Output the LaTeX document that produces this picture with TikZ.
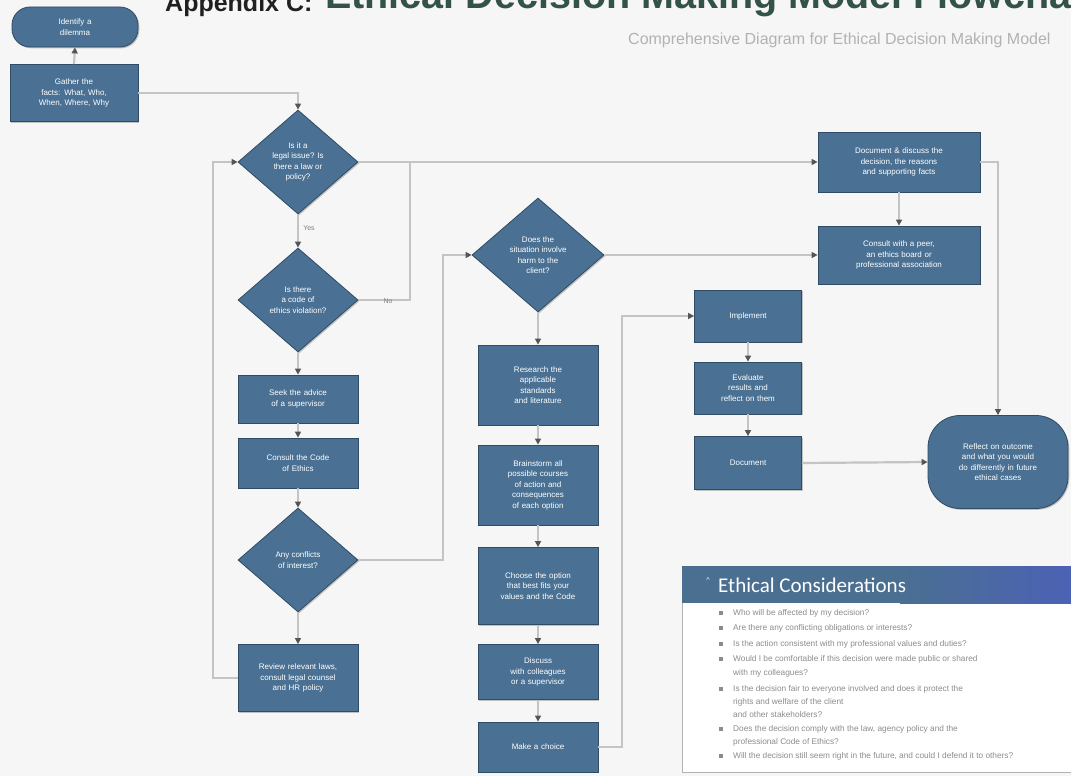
\documentclass[tikz,border=0pt]{standalone}
\usepackage{fontspec}
\setmainfont{Liberation Sans}
\newfontfamily\carlito{Carlito}
\usetikzlibrary{shapes.geometric,arrows.meta,shadows}
\definecolor{nodefill}{HTML}{4A7193}
\definecolor{nodeedge}{HTML}{2F4B65}
\definecolor{linec}{HTML}{C4C4C4}
\definecolor{tipc}{HTML}{555555}
\definecolor{bgc}{HTML}{F6F6F6}
\definecolor{titlec}{HTML}{33524A}
\definecolor{headA}{HTML}{4A6F91}
\definecolor{headB}{HTML}{4C61B8}
\definecolor{itemc}{HTML}{8C8C8C}
\begin{document}
\begin{tikzpicture}[x=1pt,y=-1pt,
  shade/.style={drop shadow={shadow xshift=1.3pt,shadow yshift=-1.3pt,opacity=0.45}},
  box/.style={draw=nodeedge,line width=0.8pt,fill=nodefill,text=white,
    font=\fontsize{8}{10.5}\selectfont,align=center,inner sep=2pt,
    minimum width=120pt,text width=110pt,shade},
  sbox/.style={box,minimum width=107pt,text width=98pt},
  wbox/.style={box,minimum width=162pt,text width=150pt},
  dia/.style={diamond,draw=nodeedge,line width=0.8pt,fill=nodefill,text=white,
    font=\fontsize{8}{10.5}\selectfont,align=center,inner sep=0pt,
    minimum width=120pt,minimum height=104pt,shade},
  term/.style={box,rounded corners=18pt},
  conn/.style={draw=linec,line width=2.2pt,-{Triangle[length=6pt,width=6pt,color=tipc]}},
  connplain/.style={draw=linec,line width=2.2pt},
  lbl/.style={font=\fontsize{7}{7}\selectfont,text=gray,inner sep=1pt},
  item/.style={anchor=west,font=\fontsize{8.3}{8.3}\selectfont,text=itemc,inner sep=0pt},
  bul/.style={fill=itemc}
]
\useasboundingbox (0,0) rectangle (1071,776);
\fill[bgc] (0,0) rectangle (1071,776);

% titles
\node[anchor=base west,font=\bfseries\fontsize{25}{25}\selectfont,text=gray!25!black,inner sep=0pt] (ttlA) at (165,12) {Appendix C:};
\node[anchor=base west,font=\bfseries\fontsize{39.5}{39.5}\selectfont,text=titlec,inner sep=0pt] (ttlB) at (325,9) {Ethical Decision Making Model Flowchart};
\node[anchor=west,font=\fontsize{16}{16}\selectfont,text=gray!60,inner sep=0pt] (sub) at (628,40) {Comprehensive Diagram for Ethical Decision Making Model};

% left column
\node[term,minimum width=126pt,text width=110pt,minimum height=40pt] (start) at (75,27) {Identify a\\dilemma};
\node[box,minimum width=128pt,minimum height=57pt] (facts) at (74,93) {Gather the\\facts: What, Who,\\When, Where, Why};
\node[dia] (d1) at (298,162) {Is it a\\legal issue? Is\\there a law or\\policy?};
\node[dia] (d2) at (298,300) {Is there\\a code of\\ethics violation?};
\node[box,minimum height=48pt] (b3) at (298,399) {Seek the advice\\of a supervisor};
\node[box,minimum height=50pt] (b4) at (298,463) {Consult the Code\\of Ethics};
\node[dia] (d3) at (298,560) {Any conflicts\\of interest?};
\node[box,minimum height=67pt] (b5) at (298,678) {Review relevant laws,\\consult legal counsel\\and HR policy};

% middle column
\node[dia,minimum width=132pt,minimum height=114pt] (d4) at (538,255) {Does the\\situation involve\\harm to the\\client?};
\node[box,minimum height=80pt] (b6) at (538,385) {Research the\\applicable\\standards\\and literature};
\node[box,minimum height=80pt] (b7) at (538,485) {Brainstorm all\\possible courses\\of action and\\consequences\\of each option};
\node[box,minimum height=77pt] (b8) at (538,586) {Choose the option\\that best fits your\\values and the Code};
\node[box,minimum height=55pt] (b9) at (538,672) {Discuss\\with colleagues\\or a supervisor};
\node[box,minimum height=50pt] (b10) at (538,747) {Make a choice};

% right side
\node[wbox,minimum height=60pt] (r1) at (899,162) {Document \& discuss the\\decision, the reasons\\and supporting facts};
\node[wbox,minimum height=58pt] (r2) at (899,255) {Consult with a peer,\\an ethics board or\\professional association};
\node[sbox,minimum height=52pt] (impl) at (748,316) {Implement};
\node[sbox,minimum height=52pt] (eval) at (748,388) {Evaluate\\results and\\reflect on them};
\node[sbox,minimum height=53pt] (doc) at (748,463) {Document};
\node[box,rounded corners=32pt,minimum width=140pt,text width=124pt,minimum height=93pt] (refl) at (998,462) {Reflect on outcome\\and what you would\\do differently in future\\ethical cases};

% connectors
\coordinate (j1) at (410,162);
\coordinate (k1) at (443,560);
\coordinate (k2) at (622,747);
\draw[conn] (facts.north) -- (start.south);
\draw[conn] (facts.east) -| (d1.north);
\draw[conn] (d1.east) -- (r1.west);
\draw[conn] (d1.south) -- (d2.north);
\draw[connplain] (d2.east) -| (j1);
\draw[conn] (d2.south) -- (b3.north);
\draw[conn] (b3.south) -- (b4.north);
\draw[conn] (b4.south) -- (d3.north);
\draw[conn] (d3.south) -- (b5.north);
\draw[conn] (b5.west) -- ++(-25,0) |- (d1.west);
\draw[conn] (d3.east) -- (k1) |- (d4.west);
\draw[conn] (d4.south) -- (b6.north);
\draw[conn] (b6.south) -- (b7.north);
\draw[conn] (b7.south) -- (b8.north);
\draw[conn] (b8.south) -- (b9.north);
\draw[conn] (b9.south) -- (b10.north);
\draw[conn] (d4.east) -- (r2.west);
\draw[conn] (r1.south) -- (r2.north);
\draw[conn] (b10.east) -- (k2) |- (impl.west);
\draw[conn] (impl.south) -- (eval.north);
\draw[conn] (eval.south) -- (doc.north);
\draw[conn] (doc.east) -- (refl.west);
\draw[conn] (r1.east) -| (refl.north);

\node[lbl] (lyes) at (309,228) {Yes};
\node[lbl] (lno) at (388,301) {No};

% Ethical considerations panel
\draw[gray!60,line width=0.8pt,fill=white] (682,566) rectangle (1085,772);
\fill[headA] (682,566) rectangle (900,603);
\shade[left color=headA,right color=headB] (900,566) rectangle (1085,603);
\node[anchor=west,text=white,font=\carlito\fontsize{21}{21}\selectfont,inner sep=0pt] (ech) at (718,585) {Ethical Considerations};
\node[anchor=center,text=white,font=\fontsize{7}{7}\selectfont,inner sep=0pt] (echm) at (708,580) {\textasciicircum};

\foreach \yy in {613,628,644,659,689,729,756} {\fill[bul] (719,\yy-1.8) rectangle ++(3.6,3.6);}
\node[item] (e1) at (733,613) {Who will be affected by my decision?};
\node[item] (e2) at (733,628) {Are there any conflicting obligations or interests?};
\node[item] (e3) at (733,644) {Is the action consistent with my professional values and duties?};
\node[item] (e4) at (733,659) {Would I be comfortable if this decision were made public or shared};
\node[item] (e4b) at (733,673) {with my colleagues?};
\node[item] (e5) at (733,689) {Is the decision fair to everyone involved and does it protect the};
\node[item] (e5b) at (733,702) {rights and welfare of the client};
\node[item] (e5c) at (733,715) {and other stakeholders?};
\node[item] (e6) at (733,729) {Does the decision comply with the law, agency policy and the};
\node[item] (e6b) at (733,742) {professional Code of Ethics?};
\node[item] (e7) at (733,756) {Will the decision still seem right in the future, and could I defend it to others?};
\end{tikzpicture}
\end{document}
